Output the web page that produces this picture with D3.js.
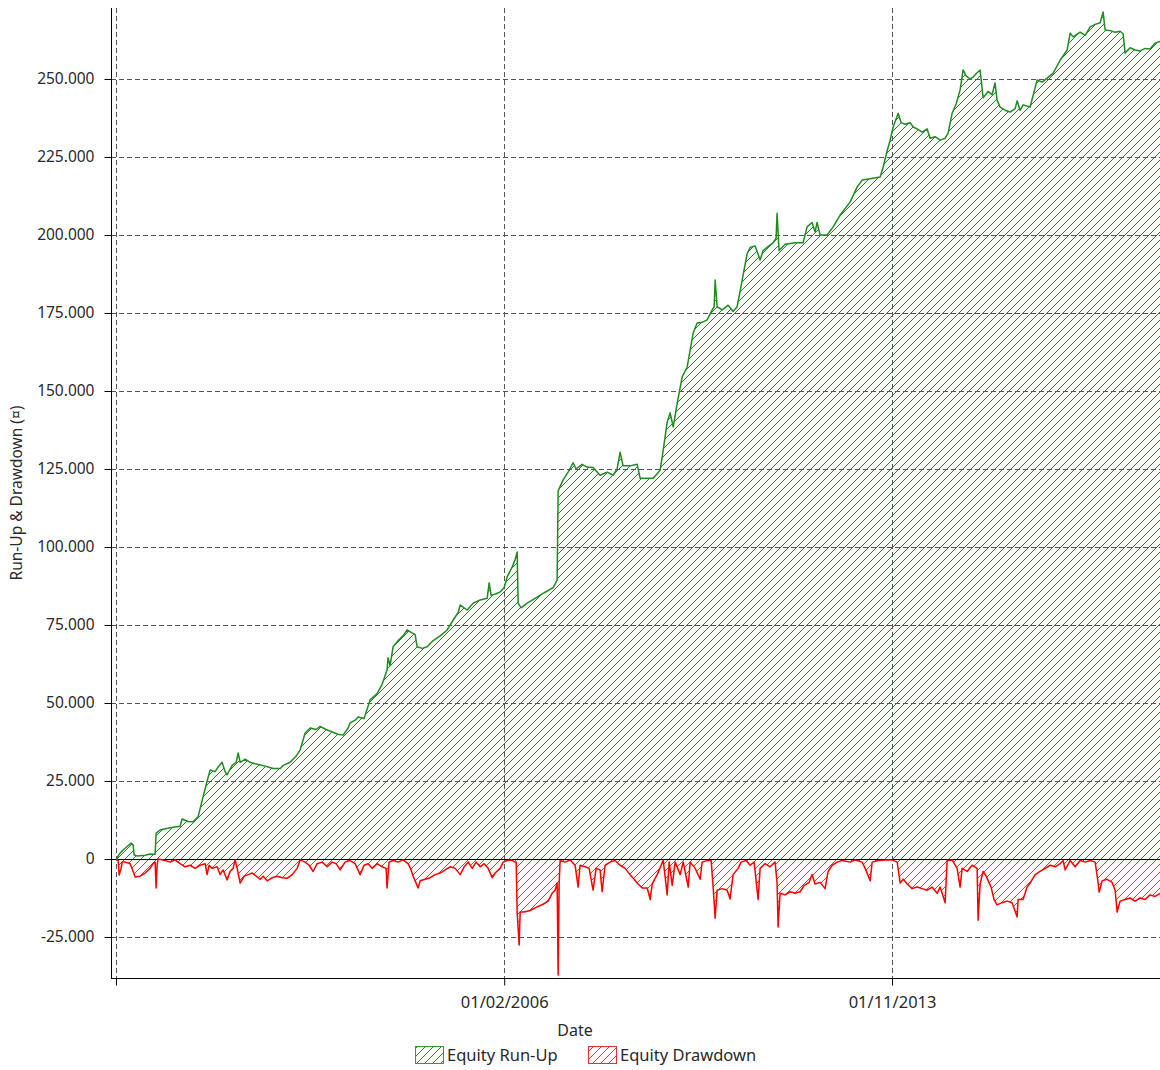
<!DOCTYPE html>
<html><head><meta charset="utf-8">
<script src="https://cdn.jsdelivr.net/npm/d3@7"></script>
<style>
body{margin:0;background:#fff}
svg text{font-family:"Noto Sans","Open Sans",sans-serif;fill:#2a2a2a}
</style>
</head><body>
<svg id="chart" width="1160" height="1070"></svg>
<script>
// ---- data ----
const xDomain = ["1998-03-26", "2019-03-10"];
const xTickDates = ["1998-05-01", "2006-02-01", "2013-11-01"];
const xTickLabels = ["", "01/02/2006", "01/11/2013"];
const yDomain = [-38140, 272750];
const yTicks = [-25000, 0, 25000, 50000, 75000, 100000, 125000, 150000, 175000, 200000, 225000, 250000];
const seriesNames = ["Equity Run-Up", "Equity Drawdown"];
const axisTitles = {x: "Date", y: "Run-Up & Drawdown (¤)"};

// dates as decimal years
const runUpDates = [
1998.333,1998.393,1998.473,1998.553,1998.633,1998.673,1998.693,1998.753,1998.912,1999.012,
1999.112,1999.132,1999.212,1999.412,1999.611,1999.651,1999.771,1999.871,1999.971,2000.071,
2000.151,2000.211,2000.311,2000.371,2000.450,2000.510,2000.550,2000.650,2000.730,2000.770,
2000.810,2000.910,2001.010,2001.110,2001.250,2001.370,2001.469,2001.609,2001.669,2001.809,
2001.929,2002.009,2002.108,2002.208,2002.328,2002.408,2002.528,2002.648,2002.768,2002.868,
2002.968,2003.007,2003.107,2003.167,2003.287,2003.407,2003.547,2003.647,2003.746,2003.766,
2003.806,2003.866,2003.966,2004.066,2004.146,2004.246,2004.306,2004.346,2004.446,2004.546,
2004.666,2004.805,2004.945,2005.065,2005.165,2005.205,2005.285,2005.345,2005.465,2005.604,
2005.744,2005.784,2005.824,2005.924,2006.004,2006.084,2006.144,2006.244,2006.304,2006.344,
2006.364,2006.424,2006.543,2006.703,2006.903,2007.063,2007.143,2007.163,2007.263,2007.362,
2007.462,2007.522,2007.642,2007.742,2007.862,2008.002,2008.142,2008.261,2008.341,2008.401,
2008.461,2008.601,2008.741,2008.801,2008.941,2009.061,2009.140,2009.200,2009.260,2009.340,
2009.400,2009.460,2009.540,2009.640,2009.740,2009.860,2009.939,2010.039,2010.139,2010.239,
2010.279,2010.299,2010.339,2010.439,2010.559,2010.658,2010.738,2010.798,2010.938,2010.998,
2011.098,2011.198,2011.258,2011.338,2011.457,2011.517,2011.537,2011.577,2011.697,2011.897,
2012.057,2012.137,2012.236,2012.296,2012.336,2012.396,2012.536,2012.656,2012.796,2012.996,
2013.136,2013.235,2013.395,2013.595,2013.655,2013.735,2013.795,2013.855,2013.955,2014.015,
2014.095,2014.195,2014.255,2014.334,2014.434,2014.534,2014.594,2014.694,2014.794,2014.894,
2014.954,2015.033,2015.113,2015.193,2015.253,2015.313,2015.393,2015.453,2015.533,2015.593,
2015.653,2015.753,2015.832,2015.892,2015.932,2015.992,2016.092,2016.192,2016.292,2016.332,
2016.392,2016.451,2016.591,2016.731,2016.831,2016.931,2017.051,2017.190,2017.330,2017.390,
2017.450,2017.590,2017.690,2017.790,2017.890,2017.989,2018.049,2018.089,2018.189,2018.289,
2018.389,2018.449,2018.489,2018.589,2018.689,2018.789,2018.888,2018.988,2019.088,2019.188
];
const runUpValues = [
0,1500,2900,4000,5100,4500,1300,1000,1200,1600,
1500,8300,9300,10000,10500,12800,12000,11900,13500,20000,
25000,28500,28000,29500,31000,28000,27000,30000,31000,34000,
31000,32000,31000,30500,30000,29500,29000,29000,30000,31000,
33000,35000,40400,42000,41500,42500,41500,40700,40000,39700,
42000,43600,44500,45500,45000,51000,53000,56000,60600,64500,
62000,68000,70000,71500,73400,72500,72000,68000,67500,68000,
70000,71500,73400,76600,79000,81400,80500,79800,82000,83000,
83600,88500,84500,85000,85600,87000,90400,93600,96000,98400,
82000,80500,82000,83500,85500,87000,89400,118000,121500,124000,
127000,125000,126500,125600,125500,123000,124000,123000,125000,130400,
126000,126000,126500,122000,122000,122000,123500,124700,131000,140000,
143000,138500,146000,154500,157700,168600,171800,172000,172800,176000,
177000,185600,177000,176000,177500,175500,177000,182000,194000,196000,
196500,192000,195000,196000,197500,199000,207000,195000,197000,197500,
197500,202600,204000,201000,204000,200000,200000,202600,206400,210600,
215400,217600,218000,218600,221800,227000,230400,234600,239000,236000,
235500,236000,234600,234000,233000,234000,231000,231500,230400,231000,
232700,239000,242000,246500,252900,251000,250000,250600,252000,252900,
244000,246000,245000,248700,243300,241000,240000,239400,240500,243000,
240000,241700,241000,249700,249000,250300,251900,256000,259300,264700,
263500,265000,264000,266700,267500,268000,271500,265700,265500,265000,
265300,264500,258300,260000,259300,259000,259800,259600,261500,262000
];

const drawdownDates = [
1998.333,1998.373,1998.393,1998.433,1998.453,1998.513,1998.613,1998.673,1998.713,1998.812,
1998.912,1999.012,1999.072,1999.112,1999.132,1999.152,1999.172,1999.312,1999.412,1999.512,
1999.611,1999.711,1999.811,1999.911,2000.011,2000.111,2000.151,2000.191,2000.251,2000.351,
2000.410,2000.470,2000.550,2000.610,2000.670,2000.710,2000.750,2000.810,2000.890,2000.970,
2001.050,2001.130,2001.210,2001.270,2001.350,2001.449,2001.549,2001.649,2001.749,2001.849,
2001.949,2002.009,2002.108,2002.188,2002.268,2002.348,2002.448,2002.548,2002.648,2002.728,
2002.808,2002.908,2003.007,2003.107,2003.207,2003.287,2003.367,2003.447,2003.547,2003.647,
2003.727,2003.746,2003.786,2003.866,2003.966,2004.066,2004.166,2004.226,2004.266,2004.366,
2004.406,2004.506,2004.606,2004.706,2004.805,2004.905,2005.005,2005.105,2005.205,2005.285,
2005.365,2005.445,2005.524,2005.604,2005.684,2005.764,2005.844,2005.904,2006.004,2006.064,
2006.144,2006.224,2006.304,2006.324,2006.344,2006.384,2006.404,2006.484,2006.603,2006.723,
2006.863,2006.963,2007.043,2007.103,2007.143,2007.163,2007.183,2007.203,2007.302,2007.402,
2007.502,2007.562,2007.602,2007.702,2007.782,2007.862,2007.922,2008.002,2008.042,2008.102,
2008.201,2008.301,2008.401,2008.501,2008.601,2008.681,2008.741,2008.841,2008.941,2009.001,
2009.041,2009.140,2009.220,2009.260,2009.340,2009.380,2009.440,2009.500,2009.600,2009.660,
2009.760,2009.800,2009.900,2009.999,2010.039,2010.139,2010.219,2010.259,2010.299,2010.339,
2010.439,2010.539,2010.598,2010.658,2010.758,2010.818,2010.918,2010.998,2011.078,2011.158,
2011.198,2011.297,2011.397,2011.497,2011.537,2011.557,2011.597,2011.697,2011.797,2011.897,
2011.997,2012.077,2012.176,2012.236,2012.296,2012.396,2012.496,2012.556,2012.636,2012.736,
2012.836,2012.996,2013.096,2013.235,2013.295,2013.395,2013.435,2013.555,2013.715,2013.835,
2013.935,2013.995,2014.055,2014.135,2014.235,2014.334,2014.434,2014.534,2014.634,2014.734,
2014.794,2014.894,2014.934,2015.033,2015.133,2015.193,2015.233,2015.333,2015.433,2015.533,
2015.553,2015.593,2015.653,2015.713,2015.812,2015.872,2015.932,2016.032,2016.132,2016.232,
2016.332,2016.352,2016.451,2016.531,2016.591,2016.691,2016.791,2016.891,2016.991,2017.091,
2017.190,2017.250,2017.290,2017.390,2017.490,2017.590,2017.690,2017.790,2017.890,2017.950,
2017.970,2018.029,2018.129,2018.229,2018.289,2018.329,2018.389,2018.489,2018.589,2018.689,
2018.789,2018.888,2018.988,2019.088,2019.188
];
const drawdownValues = [
0,-500,-5100,-3000,-1000,-1000,-1500,-4000,-5800,-5500,
-4500,-3000,-1500,-1000,-9300,-2000,0,-500,-1000,-300,
-1500,-2500,-2000,-3000,-2000,-1500,-5000,-2000,-3000,-2500,
-5000,-3500,-6700,-4000,-3000,-300,-3000,-7700,-5500,-5000,
-4500,-5500,-6500,-5500,-7000,-6000,-5500,-6000,-6200,-5000,
-3000,-300,-1000,-2000,-4000,-1500,-1000,-2500,-1000,-1500,
-3500,-1000,-500,-1500,-5000,-2000,-1500,-3000,-1500,-2500,
-3000,-9300,-1000,-500,-1000,-300,-1500,-3500,-5500,-9300,
-7000,-6500,-6000,-5000,-4500,-3500,-2500,-3000,-5000,-2500,
-1000,-3000,-1000,-2500,-1500,-3000,-6000,-4500,-3000,-1000,
-500,-300,-1000,-1000,-17300,-27600,-17000,-17000,-16500,-15500,
-14500,-13500,-11000,-10000,-7700,-37200,-8000,-500,-1000,-300,
-2000,-9000,-2000,-2500,-3000,-10000,-3000,-3500,-10500,-2000,
-1000,-500,-2000,-3000,-5100,-6500,-7700,-9300,-9300,-13000,
-8000,-5000,-2000,-300,-11500,-1000,-8500,-1000,-5000,-1000,
-9000,-1000,-3000,-6500,-1000,-500,-500,-9000,-19000,-10000,
-9500,-10000,-12800,-5000,-3000,-1000,-500,-2000,-1000,-13000,
-3000,-1500,-2500,-1000,-7700,-21800,-11000,-11500,-10500,-11000,
-10500,-8500,-7500,-5000,-8000,-7500,-9500,-4000,-2000,-1000,
-500,-1000,-300,-1000,-3000,-7000,-1000,-500,-300,-300,
-1000,-7700,-6500,-8000,-9500,-9000,-9500,-10000,-9000,-11000,
-9000,-14000,-500,-300,-3000,-9000,-3000,-4000,-2000,-3000,
-19600,-8000,-4000,-5500,-9000,-13000,-14700,-14000,-13500,-14000,
-18600,-13000,-13000,-9000,-7700,-5000,-4000,-3000,-2000,-2500,
-1500,-500,-3500,-500,-2500,-500,-1000,-500,-1000,-7700,
-10600,-7000,-6500,-7500,-10000,-17000,-13500,-13000,-12500,-13500,
-12500,-13000,-11500,-12000,-11000
];

// ---- helpers ----
function yearToDate(t) {
  const y = Math.floor(t);
  const s = Date.UTC(y, 0, 1), e = Date.UTC(y + 1, 0, 1);
  return new Date(s + (t - y) * (e - s));
}
const parse = d3.utcParse("%Y-%m-%d");
const runUp = runUpDates.map((t, i) => ({date: yearToDate(t), value: runUpValues[i]}));
const drawdown = drawdownDates.map((t, i) => ({date: yearToDate(t), value: drawdownValues[i]}));

const svg = d3.select("#chart");
const L = 111, T = 8, R = 1160, B = 978;

const x = d3.scaleUtc().domain(xDomain.map(parse)).range([L, R]);
const y = d3.scaleLinear().domain(yDomain).range([B, T]);

const loc = d3.formatLocale({decimal: ",", thousands: ".", grouping: [3], currency: ["", ""], minus: "-"});
const fmt = loc.format(",.0f");

// patterns
const defs = svg.append("defs");
function hatch(id, bg, stroke) {
  const p = defs.append("pattern").attr("id", id).attr("patternUnits", "userSpaceOnUse")
    .attr("width", 8).attr("height", 8);
  p.append("rect").attr("width", 8).attr("height", 8).attr("fill", bg);
  p.append("path").attr("d", "M-2,2 L2,-2 M0,8 L8,0 M6,10 L10,6")
    .attr("stroke", stroke).attr("stroke-width", 1).attr("fill", "none");
}
hatch("hatchGreen", "#f3faf3", "#2e7a4c");
hatch("hatchRed", "#fff4f4", "#e0383b");

defs.append("clipPath").attr("id", "plotClip").append("rect")
  .attr("x", L).attr("y", T).attr("width", R - L).attr("height", B - T);

const plot = svg.append("g").attr("clip-path", "url(#plotClip)");

const area = d3.area().x(d => x(d.date)).y0(y(0)).y1(d => y(d.value));
const line = d3.line().x(d => x(d.date)).y(d => y(d.value));

plot.append("path").datum(runUp).attr("d", area).attr("fill", "url(#hatchGreen)");
plot.append("path").datum(drawdown).attr("d", area).attr("fill", "url(#hatchRed)");

// grid
const grid = plot.append("g").attr("stroke", "#555").attr("stroke-width", 1).attr("stroke-dasharray", "5,3");
grid.selectAll("line.h").data(yTicks.filter(v => v !== 0)).join("line")
  .attr("x1", L).attr("x2", R).attr("y1", d => Math.round(y(d)) + 0.5).attr("y2", d => Math.round(y(d)) + 0.5);
grid.selectAll("line.v").data(xTickDates.map(parse)).join("line")
  .attr("x1", d => Math.round(x(d)) + 0.5).attr("x2", d => Math.round(x(d)) + 0.5).attr("y1", T).attr("y2", B);

// zero line
plot.append("line").attr("x1", L).attr("x2", R)
  .attr("y1", Math.round(y(0)) + 0.5).attr("y2", Math.round(y(0)) + 0.5)
  .attr("stroke", "#000").attr("stroke-width", 1);

plot.append("path").datum(drawdown).attr("d", line).attr("fill", "none")
  .attr("stroke", "#ff0000").attr("stroke-width", 1.5).attr("stroke-linejoin", "round");
plot.append("path").datum(runUp).attr("d", line).attr("fill", "none")
  .attr("stroke", "#238b23").attr("stroke-width", 1.5).attr("stroke-linejoin", "round");

// axes
const yAxis = d3.axisLeft(y).tickValues(yTicks).tickFormat(fmt).tickSize(7).tickPadding(10);
const gy = svg.append("g").attr("transform", `translate(${L + 0.5},0)`).call(yAxis);
gy.select(".domain").attr("d", `M0,${T}V${B}`);
gy.selectAll("text").attr("font-size", 15.5).attr("fill", "#2a2a2a");

const xAxis = d3.axisBottom(x).tickValues(xTickDates.map(parse))
  .tickFormat((d, i) => xTickLabels[i]).tickSize(7).tickPadding(11);
const gx = svg.append("g").attr("transform", `translate(0,${B + 0.5})`).call(xAxis);
gx.select(".domain").attr("d", `M${L},0H${R}`);
gx.selectAll("text").attr("font-size", 16.5).attr("fill", "#2a2a2a");
svg.selectAll(".domain").attr("stroke", "#000");

// axis titles
svg.append("text").attr("x", 575).attr("y", 1036).attr("text-anchor", "middle")
  .attr("font-size", 16).text(axisTitles.x);
svg.append("text").attr("transform", "translate(22,493) rotate(-90)").attr("text-anchor", "middle")
  .attr("font-size", 15.5).text(axisTitles.y);

// legend
const legend = svg.append("g");
const legendItems = [
  {name: seriesNames[0], fill: "url(#hatchGreen)", stroke: "#3a9a3a", x: 415},
  {name: seriesNames[1], fill: "url(#hatchRed)", stroke: "#e0303a", x: 588}
];
legendItems.forEach(it => {
  legend.append("rect").attr("x", it.x + 0.5).attr("y", 1046.5).attr("width", 28).attr("height", 17)
    .attr("fill", it.fill).attr("stroke", it.stroke);
  legend.append("text").attr("x", it.x + 32).attr("y", 1061).attr("font-size", 16.5).text(it.name);
});
</script>
</body></html>
